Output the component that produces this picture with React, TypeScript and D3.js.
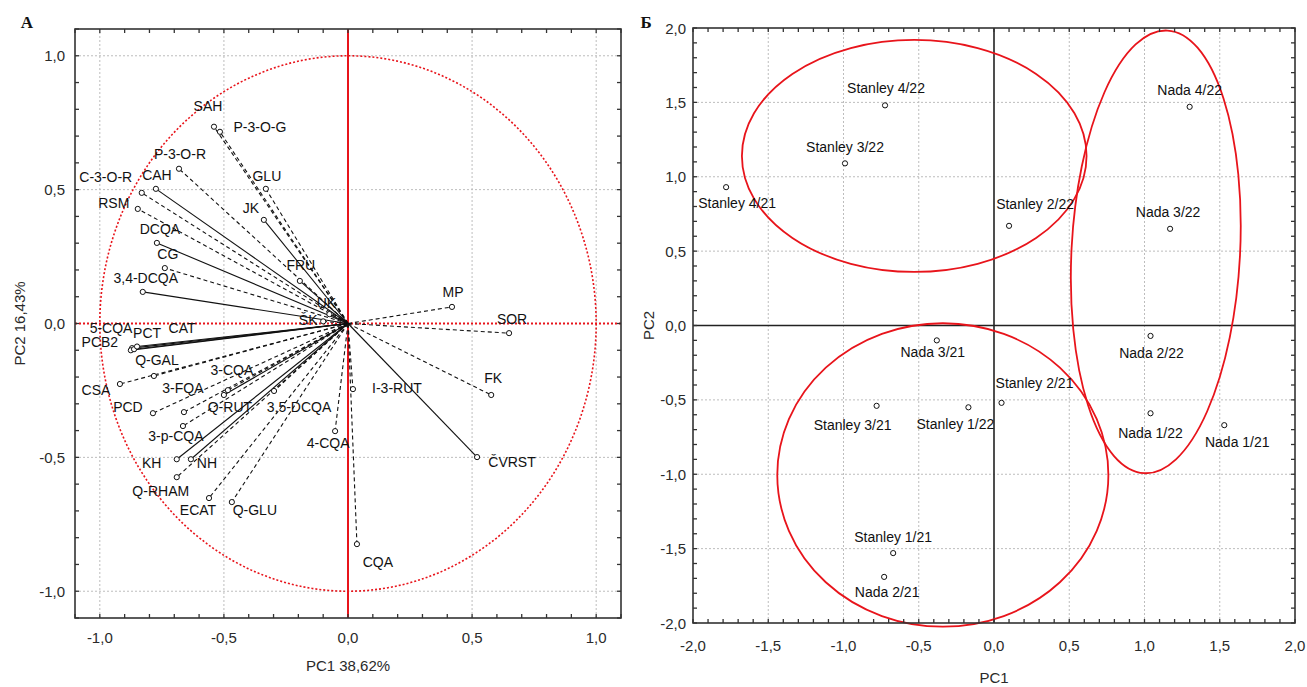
import React from "react";
import * as d3 from "d3";

// ---------- Panel A: PCA loadings ----------
const loadingNames = [
  "SAH", "P-3-O-G", "P-3-O-R", "CAH", "C-3-O-R", "RSM", "GLU", "JK", "DCQA", "CG",
  "3,4-DCQA", "FRU", "UK", "ŠK", "5-CQA", "PCB2", "PCT", "CAT", "Q-GAL", "CSA",
  "3-CQA", "Q-RUT", "3-FQA", "PCD", "3,5-DCQA", "3-p-CQA", "4-CQA", "KH", "NH", "Q-RHAM",
  "ECAT", "Q-GLU", "CQA", "I-3-RUT", "MP", "SOR", "FK", "ČVRST",
];
const loadingPC1 = [
  -0.540, -0.516, -0.681, -0.774, -0.831, -0.847, -0.331, -0.339, -0.770, -0.738,
  -0.827, -0.194, -0.075, -0.100, -0.870, -0.875, -0.862, -0.850, -0.782, -0.919,
  -0.484, -0.500, -0.661, -0.786, -0.298, -0.665, -0.052, -0.690, -0.633, -0.690,
  -0.560, -0.468, 0.036, 0.020, 0.419, 0.649, 0.577, 0.520,
];
const loadingPC2 = [
  0.735, 0.716, 0.578, 0.503, 0.488, 0.428, 0.503, 0.387, 0.301, 0.207,
  0.118, 0.159, 0.035, 0.008, -0.092, -0.100, -0.096, -0.086, -0.196, -0.226,
  -0.249, -0.267, -0.331, -0.335, -0.252, -0.383, -0.402, -0.507, -0.507, -0.574,
  -0.652, -0.667, -0.824, -0.245, 0.062, -0.036, -0.267, -0.499,
];
const loadingTicks = [-1.0, -0.5, 0.0, 0.5, 1.0];

// ---------- Panel Б: PCA scores ----------
const sampleNames = [
  "Stanley 4/22", "Stanley 3/22", "Stanley 4/21", "Stanley 2/22", "Nada 4/22",
  "Nada 3/22", "Nada 3/21", "Nada 2/22", "Stanley 2/21", "Stanley 3/21",
  "Stanley 1/22", "Nada 1/22", "Nada 1/21", "Stanley 1/21", "Nada 2/21",
];
const scorePC1 = [
  -0.724, -0.99, -1.78, 0.10, 1.30,
  1.17, -0.38, 1.04, 0.05, -0.78,
  -0.17, 1.04, 1.53, -0.67, -0.73,
];
const scorePC2 = [
  1.48, 1.09, 0.93, 0.67, 1.47,
  0.65, -0.10, -0.07, -0.52, -0.54,
  -0.55, -0.59, -0.67, -1.53, -1.69,
];
const scoreTicks = [-2.0, -1.5, -1.0, -0.5, 0.0, 0.5, 1.0, 1.5, 2.0];
// group ellipses (data units)
const ellipseCX = [-0.53, 1.075, -0.34];
const ellipseCY = [1.14, 0.495, -1.005];
const ellipseRX = [1.145, 0.56, 1.1];
const ellipseRY = [0.78, 1.49, 1.02];

// ---------- styling (not data) ----------
const solidVectors = new Set([
  "CAH", "JK", "DCQA", "3,4-DCQA", "FRU", "UK", "5-CQA", "PCB2", "PCT", "CAT",
  "Q-RUT", "KH", "NH", "ČVRST",
]);
const loadingLabelOffset: Record<string, [number, number]> = {
  "SAH": [-6, -21], "P-3-O-G": [40, -5], "P-3-O-R": [1, -15], "CAH": [1, -14],
  "C-3-O-R": [-36, -16], "RSM": [-24, -6], "GLU": [1, -13], "JK": [-13, -12],
  "DCQA": [3, -14], "CG": [3, -14], "3,4-DCQA": [3, -14], "FRU": [1, -16],
  "UK": [-3, -11], "ŠK": [-15, -1], "5-CQA": [-21, -20], "PCB2": [-31, -8],
  "PCT": [13, -16], "CAT": [45, -19], "Q-GAL": [3, -16], "CSA": [-24, 6],
  "3-CQA": [4, -20], "Q-RUT": [6, 12], "3-FQA": [-1, -24], "PCD": [-25, -6],
  "3,5-DCQA": [25, 16], "3-p-CQA": [-7, 10], "4-CQA": [-7, 12], "KH": [-25, 4],
  "NH": [16, 4], "Q-RHAM": [-16, 14], "ECAT": [-11, 12], "Q-GLU": [23, 8],
  "CQA": [21, 18], "I-3-RUT": [44, -1], "MP": [1, -15], "SOR": [3, -14],
  "FK": [2, -17], "ČVRST": [35, 5],
};
const scoreLabelOffset: Record<string, [number, number]> = {
  "Stanley 4/22": [1, -17], "Stanley 3/22": [0, -16], "Stanley 4/21": [11, 16],
  "Stanley 2/22": [26, -22], "Nada 4/22": [0, -17], "Nada 3/22": [-2, -17],
  "Nada 3/21": [-4, 12], "Nada 2/22": [1, 17], "Stanley 2/21": [33, -20],
  "Stanley 3/21": [-24, 19], "Stanley 1/22": [-13, 17], "Nada 1/22": [0, 20],
  "Nada 1/21": [13, 17], "Stanley 1/21": [0, -16], "Nada 2/21": [3, 15],
};
const ellipseRotate = [0, 3, 0];

const FONT = "'Liberation Sans', Arial, sans-serif";
const TICK_COLOR = "#2a2a2a";
const fmt = (v: number) => d3.format(".1f")(v).replace(".", ",").replace("−", "-");

function Frame({ x, y, minor }: { x: d3.ScaleLinear<number, number>; y: d3.ScaleLinear<number, number>; minor: number[] }) {
  const [x0, x1] = x.range();
  const [y0, y1] = y.range(); // y0 bottom, y1 top
  const t = 4;
  return (
    <g>
      {minor.map((v, i) => (
        <g key={"m" + i} stroke="#333" strokeWidth={1.3}>
          <line x1={x(v)} x2={x(v)} y1={y0} y2={y0 - t} />
          <line x1={x(v)} x2={x(v)} y1={y1} y2={y1 + t} />
        </g>
      ))}
      {minor.map((v, i) => (
        <g key={"n" + i} stroke="#333" strokeWidth={1.3}>
          <line x1={x0} x2={x0 + t} y1={y(v)} y2={y(v)} />
          <line x1={x1} x2={x1 - t} y1={y(v)} y2={y(v)} />
        </g>
      ))}
      <rect x={x0} y={y1} width={x1 - x0} height={y0 - y1} fill="none" stroke="#333" strokeWidth={1.6} />
    </g>
  );
}

function LoadingPanel() {
  const x = d3.scaleLinear().domain([-1.1, 1.1]).range([75, 621]);
  const y = d3.scaleLinear().domain([-1.1, 1.1]).range([618, 29]);
  const minor = d3.range(-11, 12).map((i) => i / 10);
  const cx = x(0), cy = y(0);
  const rx = x(1) - x(0), ry = y(0) - y(1);
  return (
    <g>
      {loadingTicks.filter((v) => v !== 0).map((v) => (
        <g key={v} stroke="#bdbdbd" strokeWidth={1} strokeDasharray="2,2">
          <line x1={x(v)} x2={x(v)} y1={y(-1.1)} y2={y(1.1)} />
          <line x1={x(-1.1)} x2={x(1.1)} y1={y(v)} y2={y(v)} />
        </g>
      ))}
      <ellipse cx={cx} cy={cy} rx={rx} ry={ry} fill="none" stroke="#e8141b" strokeWidth={1.6} strokeDasharray="2,2" />
      <line x1={x(-1.1)} x2={x(1.1)} y1={cy} y2={cy} stroke="#e8141b" strokeWidth={1.8} strokeDasharray="2,2" />
      <line x1={cx} x2={cx} y1={y(-1.1)} y2={y(1.1)} stroke="#e8141b" strokeWidth={2} />
      {loadingNames.map((n, i) => (
        <line key={"l" + n} x1={cx} y1={cy} x2={x(loadingPC1[i])} y2={y(loadingPC2[i])}
          stroke="#111" strokeWidth={1.1} strokeDasharray={solidVectors.has(n) ? undefined : "4,3"} />
      ))}
      {loadingNames.map((n, i) => (
        <circle key={"c" + n} cx={x(loadingPC1[i])} cy={y(loadingPC2[i])} r={2.6} fill="white" stroke="#111" strokeWidth={1} />
      ))}
      {loadingNames.map((n, i) => {
        const [dx, dy] = loadingLabelOffset[n] || [0, -14];
        return (
          <text key={"t" + n} x={x(loadingPC1[i]) + dx} y={y(loadingPC2[i]) + dy} textAnchor="middle"
            dominantBaseline="central" fontFamily={FONT} fontSize={14} fill="#111">{n}</text>
        );
      })}
      <Frame x={x} y={y} minor={minor} />
      {loadingTicks.map((v) => (
        <text key={"yt" + v} x={65} y={y(v)} textAnchor="end" dominantBaseline="central" fontFamily={FONT} fontSize={15} fill={TICK_COLOR}>{fmt(v)}</text>
      ))}
      {loadingTicks.map((v) => (
        <text key={"xt" + v} x={x(v)} y={637} textAnchor="middle" dominantBaseline="central" fontFamily={FONT} fontSize={15} fill={TICK_COLOR}>{fmt(v)}</text>
      ))}
      <text x={x(0)} y={665} textAnchor="middle" dominantBaseline="central" fontFamily={FONT} fontSize={15} fill={TICK_COLOR}>PC1 38,62%</text>
      <text transform={`translate(19,${y(0)}) rotate(-90)`} textAnchor="middle" dominantBaseline="central" fontFamily={FONT} fontSize={15} fill={TICK_COLOR}>PC2 16,43%</text>
      <text x={27} y={22} textAnchor="middle" dominantBaseline="central" fontFamily="'Liberation Serif', 'Times New Roman', serif" fontWeight="bold" fontSize={17} fill="#111">A</text>
    </g>
  );
}

function ScorePanel() {
  const x = d3.scaleLinear().domain([-2, 2]).range([693, 1295]);
  const y = d3.scaleLinear().domain([-2, 2]).range([623, 28]);
  const minor = d3.range(-20, 21).map((i) => i / 10);
  return (
    <g>
      {scoreTicks.filter((v) => v !== 0 && Math.abs(v) !== 2).map((v) => (
        <g key={v} stroke="#bdbdbd" strokeWidth={1} strokeDasharray="2,2">
          <line x1={x(v)} x2={x(v)} y1={y(-2)} y2={y(2)} />
          <line x1={x(-2)} x2={x(2)} y1={y(v)} y2={y(v)} />
        </g>
      ))}
      <line x1={x(-2)} x2={x(2)} y1={y(0)} y2={y(0)} stroke="#222" strokeWidth={1.6} />
      <line x1={x(0)} x2={x(0)} y1={y(-2)} y2={y(2)} stroke="#222" strokeWidth={1.6} />
      {ellipseCX.map((c, i) => {
        const ex = x(c), ey = y(ellipseCY[i]);
        return (
          <ellipse key={"e" + i} cx={ex} cy={ey} rx={x(c + ellipseRX[i]) - ex} ry={ey - y(ellipseCY[i] + ellipseRY[i])}
            transform={`rotate(${ellipseRotate[i]},${ex},${ey})`} fill="none" stroke="#e8141b" strokeWidth={1.8} />
        );
      })}
      {sampleNames.map((n, i) => (
        <circle key={"c" + n} cx={x(scorePC1[i])} cy={y(scorePC2[i])} r={2.6} fill="white" stroke="#111" strokeWidth={1} />
      ))}
      {sampleNames.map((n, i) => {
        const [dx, dy] = scoreLabelOffset[n] || [0, -15];
        return (
          <text key={"t" + n} x={x(scorePC1[i]) + dx} y={y(scorePC2[i]) + dy} textAnchor="middle"
            dominantBaseline="central" fontFamily={FONT} fontSize={14} fill="#111">{n}</text>
        );
      })}
      <Frame x={x} y={y} minor={minor} />
      {scoreTicks.map((v) => (
        <text key={"yt" + v} x={686} y={y(v)} textAnchor="end" dominantBaseline="central" fontFamily={FONT} fontSize={15} fill={TICK_COLOR}>{fmt(v)}</text>
      ))}
      {scoreTicks.map((v) => (
        <text key={"xt" + v} x={x(v)} y={645} textAnchor="middle" dominantBaseline="central" fontFamily={FONT} fontSize={15} fill={TICK_COLOR}>{fmt(v)}</text>
      ))}
      <text x={x(0)} y={677} textAnchor="middle" dominantBaseline="central" fontFamily={FONT} fontSize={15} fill={TICK_COLOR}>PC1</text>
      <text transform={`translate(648,${y(0)}) rotate(-90)`} textAnchor="middle" dominantBaseline="central" fontFamily={FONT} fontSize={15} fill={TICK_COLOR}>PC2</text>
      <text x={646} y={22} textAnchor="middle" dominantBaseline="central" fontFamily="'Liberation Serif', 'Times New Roman', serif" fontWeight="bold" fontSize={17} fill="#111">Б</text>
    </g>
  );
}

export default function App() {
  return (
    <svg width={1307} height={687} style={{ position: "absolute", left: 0, top: 0, background: "white" }}>
      <rect width={1307} height={687} fill="white" />
      <LoadingPanel />
      <ScorePanel />
    </svg>
  );
}
